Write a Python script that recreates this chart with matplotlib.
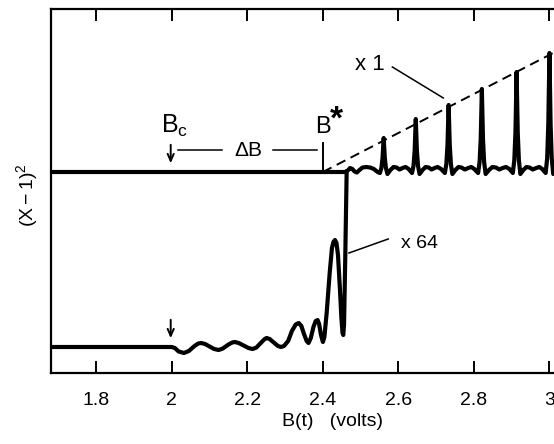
import matplotlib
matplotlib.use("Agg")
import matplotlib.pyplot as plt

plt.rcParams['font.family'] = ['Liberation Sans', 'DejaVu Sans']
plt.rcParams['mathtext.fontset'] = 'custom'
plt.rcParams['mathtext.rm'] = 'Liberation Sans'
plt.rcParams['mathtext.it'] = 'Liberation Sans:italic'
plt.rcParams['mathtext.bf'] = 'Liberation Sans:bold'

# ---- data (x in volts, y in arbitrary units) ----
x_ticks = [1.8, 2.0, 2.2, 2.4, 2.6, 2.8, 3.0]
x_tick_labels = ['1.8', '2', '2.2', '2.4', '2.6', '2.8', '3']

# upper trace (x1 magnification)
upper_x = [1.68, 2.400, 2.460, 2.466, 2.472, 2.478, 2.484, 2.490, 2.497, 2.505, 2.515, 2.525, 2.535, 2.545,
           2.551, 2.555, 2.558, 2.561, 2.564, 2.567, 2.571,
           2.579, 2.587, 2.595, 2.603, 2.611, 2.619, 2.627,
           2.636, 2.640, 2.643, 2.646, 2.649, 2.652, 2.656,
           2.664, 2.672, 2.680, 2.688, 2.696, 2.704, 2.713,
           2.723, 2.727, 2.730, 2.733, 2.736, 2.739, 2.743,
           2.751, 2.759, 2.767, 2.776, 2.785, 2.793, 2.801,
           2.811, 2.815, 2.818, 2.821, 2.824, 2.827, 2.831,
           2.840, 2.849, 2.858, 2.867, 2.876, 2.885, 2.894,
           2.903, 2.907, 2.910, 2.913, 2.916, 2.919, 2.923,
           2.931, 2.939, 2.947, 2.956, 2.965, 2.973, 2.981,
           2.990, 2.994, 2.997, 3.000, 3.003, 3.006, 3.010, 3.020, 3.030]
upper_y = [201, 201, 201, 202.5, 205, 204, 201.5, 200.5, 203, 205.5, 206, 205.5, 204, 201,
           200, 205, 215, 235, 215, 205, 199,
           203, 206, 205.5, 203.5, 205, 206, 204,
           200, 207, 222, 254, 222, 207, 199,
           203, 206, 205.5, 203.5, 205, 206, 204,
           200, 209, 228, 268, 228, 209, 199,
           203, 206, 205.5, 203.5, 205, 206, 204,
           200, 211, 234, 284, 234, 211, 199,
           203, 206, 205.5, 203.5, 205, 206, 204,
           200, 213, 241, 301, 241, 213, 199,
           203, 206, 205.5, 203.5, 205, 206, 204,
           200, 215, 249, 320, 249, 215, 199, 205, 206]

# envelope of the upper peaks (dashed)
env_x = [2.40, 3.02]
env_y = [201, 322]

# lower trace (x64 magnification)
lower_x = [1.68, 2.000, 2.008, 2.018, 2.032, 2.045, 2.060, 2.070, 2.078, 2.088, 2.100,
           2.112, 2.124, 2.135, 2.150, 2.160, 2.167, 2.177, 2.190, 2.203, 2.214,
           2.224, 2.238, 2.246, 2.251, 2.259, 2.270, 2.281, 2.289, 2.297, 2.308,
           2.318, 2.328, 2.336, 2.343, 2.350, 2.357, 2.362, 2.368, 2.375, 2.381,
           2.386, 2.390, 2.395, 2.400, 2.404, 2.410, 2.418, 2.424, 2.428, 2.432,
           2.436, 2.440, 2.445, 2.449, 2.452, 2.454, 2.456, 2.459, 2.463]
lower_y = [26, 26, 25, 21.5, 20, 22, 27, 29.5, 30, 29, 26.5,
           24, 23, 24.5, 28.5, 30.5, 31, 30, 27.5, 25, 24,
           25.5, 31, 34, 35, 34, 30.5, 27, 26, 27, 32,
           42, 48.5, 50, 47, 39, 32, 30, 35, 46, 52,
           53, 49, 38, 31, 36, 60, 100, 125, 131, 133,
           130, 118, 85, 55, 40, 38, 48, 110, 202]

fig = plt.figure(figsize=(5.54, 4.44), dpi=100)
ax = fig.add_axes([51/554, 71/444, 506/554, 364/444])
ax.set_xlim(1.68, 3.020)
ax.set_ylim(0, 364)

lw = 3.0
ax.plot(upper_x, upper_y, color='black', lw=lw, solid_joinstyle='round', solid_capstyle='round')
ax.plot(lower_x, lower_y, color='black', lw=lw, solid_joinstyle='round', solid_capstyle='round')
ax.plot(env_x, env_y, color='black', lw=1.4, linestyle=(0, (5, 3)))

# ticks
ax.set_xticks(x_ticks)
ax.set_xticklabels(x_tick_labels, fontsize=14)
ax.set_yticks([])
ax.tick_params(axis='x', direction='in', top=True, bottom=True, length=8.5, width=1.4, pad=13.5)
for s in ['left', 'bottom', 'top']:
    ax.spines[s].set_linewidth(1.6)
ax.spines['right'].set_visible(False)

ann_lw = 1.1
# B_c annotation
ax.text(1.972, 240, r'$\mathregular{B_c}$', fontsize=18, ha='left', va='baseline')
ax.annotate('', xy=(1.997, 207), xytext=(1.997, 231),
            arrowprops=dict(arrowstyle='->,head_length=0.5,head_width=0.22', lw=1.4, color='black'))
ax.plot([2.017, 2.133], [223, 223], color='black', lw=ann_lw)
ax.text(2.202, 222, r'$\mathregular{\Delta B}$', fontsize=15, ha='center', va='center')
ax.plot([2.268, 2.385], [223, 223], color='black', lw=ann_lw)
ax.plot([2.40, 2.40], [201, 230], color='black', lw=1.4)
# B* label
ax.text(2.379, 240, 'B', fontsize=17, ha='left', va='baseline')
ax.text(2.418, 244, '*', fontsize=24, ha='left', va='baseline', fontweight='bold')
# x1 label
ax.text(2.525, 309, 'x 1', fontsize=16, ha='center', va='center')
ax.plot([2.584, 2.719], [306, 275], color='black', lw=ann_lw)
# x64 label
ax.text(2.657, 129, 'x 64', fontsize=14, ha='center', va='center')
ax.plot([2.573, 2.469], [134, 120], color='black', lw=ann_lw)
# lower arrow
ax.annotate('', xy=(1.997, 32), xytext=(1.997, 56),
            arrowprops=dict(arrowstyle='->,head_length=0.5,head_width=0.22', lw=1.4, color='black'))

# axis labels
fig.text(333/554, 1 - 421/444, 'B(t)   (volts)', fontsize=14, ha='center', va='center')
fig.text(27/554, 1 - 195/444, r'$\mathregular{(X-1)^2}$', fontsize=14, rotation=90,
         ha='center', va='center')

fig.savefig('out.png', dpi=100)
